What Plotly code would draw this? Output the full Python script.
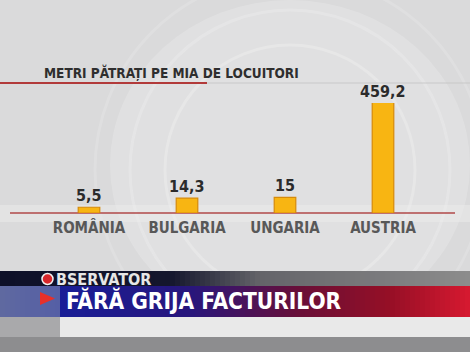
import plotly.graph_objects as go

# ---- data ----
countries = ["ROMÂNIA", "BULGARIA", "UNGARIA", "AUSTRIA"]
values = [5.5, 14.3, 15, 459.2]
chart_title = "METRI PĂTRAȚI PE MIA DE LOCUITORI"
band_title = "FĂRĂ GRIJA FACTURILOR"
brand = "OBSERVATOR"

W, H = 470, 352
Y_MAX = 105.5  # visible range of the (truncated) value axis

FONT = "Liberation Sans Narrow, DejaVu Sans Condensed, Arial Narrow, Roboto, sans-serif"


def px(x):
    return x / W


def py(y):
    return 1 - y / H


def fmt(v):
    s = ("%g" % v)
    return s.replace(".", ",")


def lerp(c1, c2, t):
    return tuple(int(round(a + (b - a) * t)) for a, b in zip(c1, c2))


def grad(stops, x):
    for (x0, c0), (x1, c1) in zip(stops, stops[1:]):
        if x0 <= x <= x1:
            t = 0 if x1 == x0 else (x - x0) / (x1 - x0)
            return "rgb(%d,%d,%d)" % lerp(c0, c1, t)
    return "rgb(%d,%d,%d)" % stops[-1][1]


shapes = []

# soft light centre
shapes.append(dict(type="circle", xref="paper", yref="paper",
                   x0=px(110), x1=px(470), y0=py(330), y1=py(0),
                   fillcolor="rgba(255,255,255,0.18)", line_width=0, layer="below"))
# decorative rings in background
for r, op in [(125, 0.22), (160, 0.18), (195, 0.14)]:
    cx, cy = 290, 170
    shapes.append(dict(type="circle", xref="paper", yref="paper",
                       x0=px(cx - r), x1=px(cx + r), y0=py(cy + r), y1=py(cy - r),
                       line=dict(color="rgba(255,255,255,%.2f)" % op, width=3),
                       layer="below"))

# light floor strip behind baseline
shapes.append(dict(type="rect", xref="paper", yref="paper",
                   x0=0, x1=1, y0=py(222), y1=py(205),
                   fillcolor="rgba(238,238,238,0.45)", line_width=0, layer="below"))

# title underline
shapes.append(dict(type="line", xref="paper", yref="paper",
                   x0=0, x1=px(207), y0=py(83), y1=py(83),
                   line=dict(color="#b23a3a", width=2)))
shapes.append(dict(type="line", xref="paper", yref="paper",
                   x0=px(207), x1=1, y0=py(83), y1=py(83),
                   line=dict(color="rgba(195,195,195,0.8)", width=1)))

# baseline
shapes.append(dict(type="line", xref="paper", yref="paper",
                   x0=px(10), x1=px(455), y0=py(213), y1=py(213),
                   line=dict(color="#b04848", width=1.5), layer="below"))

# lower third: dark strip + colour band
strip_stops = [(0, (14, 16, 40)), (170, (20, 22, 45)), (260, (100, 100, 105)), (470, (140, 140, 140))]
band_stops = [(0, (95, 105, 160)), (58, (85, 95, 165)), (60, (25, 30, 150)),
              (190, (40, 22, 125)), (300, (105, 15, 55)), (390, (150, 15, 38)), (470, (215, 25, 48))]
step = 5
for x in range(0, W, step):
    shapes.append(dict(type="rect", xref="paper", yref="paper",
                       x0=px(x), x1=px(x + step + 0.5), y0=py(286), y1=py(271),
                       fillcolor=grad(strip_stops, x + step / 2), line_width=0))
    shapes.append(dict(type="rect", xref="paper", yref="paper",
                       x0=px(x), x1=px(x + step + 0.5), y0=py(317), y1=py(286),
                       fillcolor=grad(band_stops, x + step / 2), line_width=0))
# under band
shapes.append(dict(type="rect", xref="paper", yref="paper",
                   x0=0, x1=1, y0=py(337), y1=py(317),
                   fillcolor="#e9e9e9", line_width=0))
shapes.append(dict(type="rect", xref="paper", yref="paper",
                   x0=0, x1=px(60), y0=py(337), y1=py(317),
                   fillcolor="#a9a9ab", line_width=0))
shapes.append(dict(type="rect", xref="paper", yref="paper",
                   x0=0, x1=1, y0=0, y1=py(337),
                   fillcolor="#8d8d8f", line_width=0))
# red arrow
shapes.append(dict(type="path", xref="paper", yref="paper",
                   path="M %f %f L %f %f L %f %f Z" % (px(40), py(292), px(55), py(298.5), px(40), py(305)),
                   fillcolor="#e8302a", line_width=0))
# red dot of brand "O"
shapes.append(dict(type="circle", xref="paper", yref="paper",
                   x0=px(42), x1=px(53), y0=py(284.5), y1=py(273.5),
                   fillcolor="#d8262a", line=dict(color="#f0f0f0", width=1.5)))

fig = go.Figure(go.Bar(
    x=countries, y=values, width=0.22,
    marker=dict(color="#f8b512", line=dict(color="#d68a0a", width=1.2)),
    hoverinfo="skip",
))

annotations = []
for c, v in zip(countries, values):
    annotations.append(dict(x=c, y=min(v, Y_MAX), xref="x", yref="y", text=fmt(v),
                            showarrow=False, yanchor="bottom", yshift=0,
                            font=dict(family=FONT, size=16, color="#2b2b2b", weight="bold")))

annotations.append(dict(x=px(42), y=py(73), xref="paper", yref="paper", text=chart_title,
                        showarrow=False, xanchor="left", yanchor="middle",
                        font=dict(family=FONT, size=13.5, color="#2e2e2e", weight="bold")))
annotations.append(dict(x=px(54), y=py(279), xref="paper", yref="paper", text=brand[1:],
                        showarrow=False, xanchor="left", yanchor="middle",
                        font=dict(family=FONT, size=16, color="#e6e6e6", weight="bold")))
annotations.append(dict(x=px(64), y=py(300), xref="paper", yref="paper", text=band_title,
                        showarrow=False, xanchor="left", yanchor="middle",
                        font=dict(family=FONT, size=22.5, color="#ffffff", weight="bold")))

fig.update_layout(
    width=W, height=H, margin=dict(l=0, r=0, t=0, b=0),
    paper_bgcolor="#dadadb", plot_bgcolor="rgba(0,0,0,0)",
    showlegend=False, shapes=shapes, annotations=annotations,
    xaxis=dict(domain=[px(40), px(432)], range=[-0.5, 3.5], showline=False, showgrid=False,
               zeroline=False, ticks="", ticklabelstandoff=4,
               tickfont=dict(family=FONT, size=15, color="#585858", weight="bold"),
               fixedrange=True),
    yaxis=dict(domain=[py(213), py(103)], range=[0, Y_MAX], visible=False, fixedrange=True),
)

fig.write_html("out.html")
